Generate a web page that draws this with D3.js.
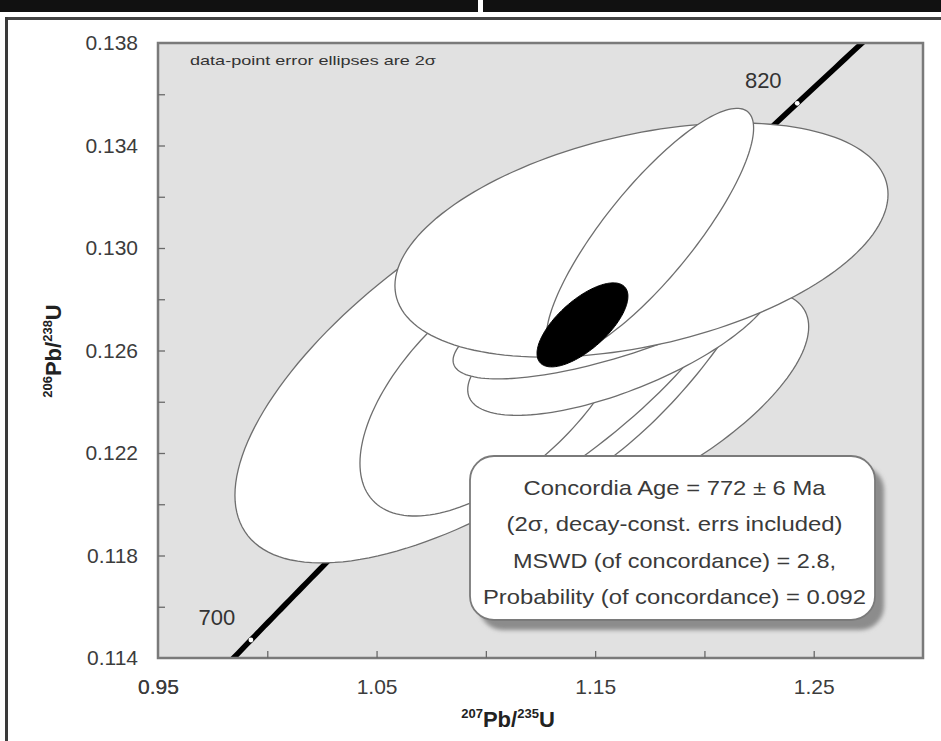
<!DOCTYPE html>
<html>
<head>
<meta charset="utf-8">
<script src="https://cdn.jsdelivr.net/npm/d3@7"></script>
<style>
  body { margin: 0; background: #fff; }
  svg { display: block; font-family: Arial, "Liberation Sans", Helvetica, sans-serif; }
</style>
</head>
<body>
<svg id="chart" width="941" height="741"></svg>
<script>
// U–Pb concordia diagram with 2σ data-point error ellipses

// decay constants (per year)
const lambda238 = 1.55125e-10;
const lambda235 = 9.8485e-10;

// axis ticks
const xTickValues = [0.95, 1.00, 1.05, 1.10, 1.15, 1.20, 1.25];
const xTickLabels = ["0.95", "1.05", "1.15", "1.25"];
const yTickValues = [0.114, 0.116, 0.118, 0.120, 0.122, 0.124, 0.126, 0.128, 0.130, 0.132, 0.134, 0.136];
const yTickLabels = ["0.114", "0.118", "0.122", "0.126", "0.130", "0.134", "0.138"];

// analyses, back to front: 207Pb/235U, 206Pb/238U, 2σ errors, error correlation
const spotPb207U235 = [1.1705, 1.1701, 1.1051, 1.1051, 1.1623, 1.1614, 1.1712, 1.1751];
const spotPb206U238 = [0.12387, 0.12660, 0.12571, 0.12469, 0.12660, 0.12758, 0.13031, 0.13062];
const spotErr207 = [0.0772, 0.0637, 0.1199, 0.0627, 0.0706, 0.0764, 0.1128, 0.0474];
const spotErr206 = [0.00449, 0.00623, 0.00800, 0.00515, 0.00313, 0.00269, 0.00457, 0.00483];
const spotRho = [0.68, 0.78, 0.67, 0.60, 0.68, 0.73, 0.39, 0.84];

// concordia age ellipse
const agePoint = [1.1442, 0.12700];
const ageErr = [0.0208, 0.00164];
const ageRho = 0.68;

// concordia age markers (Ma)
const concordiaTickAges = [700, 720, 740, 760, 780, 800, 820];
const concordiaLabelAges = [700, 820];

const statsLines = [
  "Concordia Age = 772 ± 6 Ma",
  "(2σ, decay-const. errs included)",
  "MSWD (of concordance) = 2.8,",
  "Probability (of concordance) = 0.092"
];
const statsWidths = [302, 336, 323, 383];

const svg = d3.select("#chart");

// --- page frame -------------------------------------------------------
svg.append("rect").attr("x", 0).attr("y", 0).attr("width", 478).attr("height", 12).attr("fill", "#111");
svg.append("rect").attr("x", 483).attr("y", 0).attr("width", 458).attr("height", 12).attr("fill", "#111");
svg.append("line").attr("x1", 5).attr("x2", 941).attr("y1", 18.5).attr("y2", 18.5)
  .attr("stroke", "#444").attr("stroke-width", 3);
svg.append("line").attr("x1", 6.5).attr("x2", 6.5).attr("y1", 17).attr("y2", 741)
  .attr("stroke", "#3a3a3a").attr("stroke-width", 3);

// --- scales -----------------------------------------------------------
const x = d3.scaleLinear().domain([0.95, 1.30]).range([158, 923]);
const y = d3.scaleLinear().domain([0.114, 0.138]).range([658, 43]);
const [x0, x1] = x.range();
const [y0, y1] = y.range();

const defs = svg.append("defs");
defs.append("clipPath").attr("id", "plotClip")
  .append("rect").attr("x", x0).attr("y", y1).attr("width", x1 - x0).attr("height", y0 - y1);
const blur = defs.append("filter").attr("id", "shadowBlur").attr("x", "-10%").attr("y", "-10%")
  .attr("width", "130%").attr("height", "130%");
blur.append("feGaussianBlur").attr("stdDeviation", 2.2);

// plot background
svg.append("rect").attr("x", x0).attr("y", y1).attr("width", x1 - x0).attr("height", y0 - y1)
  .attr("fill", "#e1e1e1");

const plot = svg.append("g").attr("clip-path", "url(#plotClip)");

// --- concordia curve --------------------------------------------------
const ratio206 = t => Math.exp(lambda238 * t * 1e6) - 1;
const ratio207 = t => Math.exp(lambda235 * t * 1e6) - 1;
const curveAges = d3.range(680, 850.5, 1);
plot.append("path")
  .datum(curveAges)
  .attr("fill", "none")
  .attr("stroke", "#000")
  .attr("stroke-width", 5.5)
  .attr("stroke-linecap", "round")
  .attr("d", d3.line().x(t => x(ratio207(t))).y(t => y(ratio206(t))));

plot.selectAll("circle.ageTick")
  .data(concordiaTickAges)
  .join("circle")
  .attr("class", "ageTick")
  .attr("cx", t => x(ratio207(t)))
  .attr("cy", t => y(ratio206(t)))
  .attr("r", 2.4)
  .attr("fill", "#fff");

// --- error ellipses ---------------------------------------------------
function ellipsePath(cx, cy, ex, ey, rho) {
  const k = Math.sqrt(1 - rho * rho);
  const pts = d3.range(0, 160).map(i => {
    const a = 2 * Math.PI * i / 160;
    return [x(cx + ex * Math.cos(a)), y(cy + ey * (rho * Math.cos(a) + k * Math.sin(a)))];
  });
  return d3.line().curve(d3.curveLinearClosed)(pts);
}

plot.selectAll("path.spot")
  .data(d3.range(spotPb207U235.length))
  .join("path")
  .attr("class", "spot")
  .attr("d", i => ellipsePath(spotPb207U235[i], spotPb206U238[i], spotErr207[i], spotErr206[i], spotRho[i]))
  .attr("fill", "#fff")
  .attr("stroke", "#6e6e6e")
  .attr("stroke-width", 1.3);

plot.append("path")
  .attr("d", ellipsePath(agePoint[0], agePoint[1], ageErr[0], ageErr[1], ageRho))
  .attr("fill", "#000")
  .attr("stroke", "#000")
  .attr("stroke-width", 1);

// concordia age labels
plot.selectAll("text.ageLabel")
  .data(concordiaLabelAges)
  .join("text")
  .attr("class", "ageLabel")
  .attr("x", t => x(ratio207(t)) - 34)
  .attr("y", t => y(ratio206(t)) - 15)
  .attr("text-anchor", "middle")
  .attr("font-size", 22)
  .attr("fill", "#333")
  .text(t => t);

// --- plot border & axes -----------------------------------------------
svg.append("rect").attr("x", x0).attr("y", y1).attr("width", x1 - x0).attr("height", y0 - y1)
  .attr("fill", "none").attr("stroke", "#7a7a7a").attr("stroke-width", 2.5);

const fmtX = d3.format(".2f");
const fmtY = d3.format(".3f");

const xAxis = svg.append("g")
  .attr("transform", `translate(0,${y0})`)
  .call(d3.axisBottom(x).tickValues(xTickValues.concat([0.95]))
    .tickSize(-7).tickPadding(21)
    .tickFormat(d => xTickLabels.includes(fmtX(d)) ? fmtX(d) : ""));
const yAxis = svg.append("g")
  .attr("transform", `translate(${x0},0)`)
  .call(d3.axisLeft(y).tickValues(yTickValues.concat([0.138]))
    .tickSize(-7).tickPadding(20)
    .tickFormat(d => yTickLabels.includes(fmtY(d)) ? fmtY(d) : ""));

[xAxis, yAxis].forEach(g => {
  g.select(".domain").remove();
  g.selectAll(".tick line").attr("stroke", "#6a6a6a").attr("stroke-width", 1.3);
  g.selectAll(".tick text").attr("font-size", 21).attr("fill", "#3c3c3c")
    .attr("font-family", "Arial, 'Liberation Sans', sans-serif");
  g.selectAll(".tick text").filter(function () { return this.textContent === ""; }).remove();
});
// no tick mark drawn on top of the corners
xAxis.selectAll(".tick").filter(d => d === 0.95).select("line").remove();
yAxis.selectAll(".tick").filter(d => d === 0.114 || d === 0.138).select("line").remove();

// axis titles
const xTitle = svg.append("text")
  .attr("x", 508).attr("y", 727)
  .attr("text-anchor", "middle")
  .attr("font-weight", "bold")
  .attr("font-size", 22)
  .attr("fill", "#222");
xTitle.append("tspan").attr("font-size", 13).attr("dy", -9).text("207");
xTitle.append("tspan").attr("dy", 9).text("Pb/");
xTitle.append("tspan").attr("font-size", 13).attr("dy", -9).text("235");
xTitle.append("tspan").attr("dy", 9).text("U");

const yTitle = svg.append("text")
  .attr("transform", "translate(61,351) rotate(-90)")
  .attr("text-anchor", "middle")
  .attr("font-weight", "bold")
  .attr("font-size", 22)
  .attr("fill", "#222");
yTitle.append("tspan").attr("font-size", 13).attr("dy", -9).text("206");
yTitle.append("tspan").attr("dy", 9).text("Pb/");
yTitle.append("tspan").attr("font-size", 13).attr("dy", -9).text("238");
yTitle.append("tspan").attr("dy", 9).text("U");

// note in the upper-left corner
svg.append("text")
  .attr("x", 190).attr("y", 65)
  .attr("font-size", 13)
  .attr("fill", "#333")
  .attr("textLength", 246)
  .attr("lengthAdjust", "spacingAndGlyphs")
  .text("data-point error ellipses are 2σ");

// --- statistics box ---------------------------------------------------
const box = { left: 470, top: 456, width: 405, height: 164, r: 24 };
svg.append("rect")
  .attr("x", box.left + 9).attr("y", box.top + 10)
  .attr("width", box.width).attr("height", box.height)
  .attr("rx", box.r).attr("ry", box.r)
  .attr("fill", "#8c8c8c")
  .attr("filter", "url(#shadowBlur)");
svg.append("rect")
  .attr("x", box.left).attr("y", box.top)
  .attr("width", box.width).attr("height", box.height)
  .attr("rx", box.r).attr("ry", box.r)
  .attr("fill", "#fff")
  .attr("stroke", "#7a7a7a")
  .attr("stroke-width", 1.8);

svg.selectAll("text.stats")
  .data(statsLines)
  .join("text")
  .attr("class", "stats")
  .attr("x", box.left + box.width / 2 + 2)
  .attr("y", (d, i) => 495 + i * 36.3)
  .attr("text-anchor", "middle")
  .attr("font-size", 21)
  .attr("fill", "#3a3a3a")
  .attr("textLength", (d, i) => statsWidths[i])
  .attr("lengthAdjust", "spacingAndGlyphs")
  .text(d => d);
</script>
</body>
</html>
